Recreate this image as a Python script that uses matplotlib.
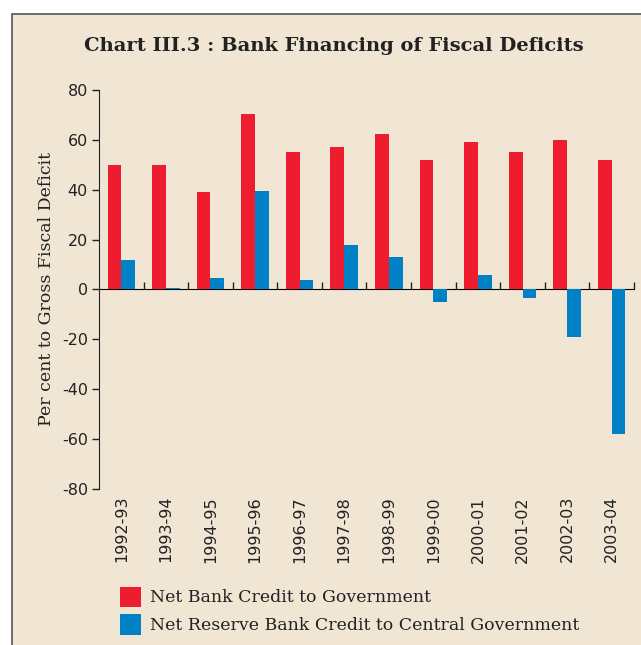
import numpy as np
import matplotlib
matplotlib.use("Agg")
import matplotlib.pyplot as plt
from matplotlib.patches import Rectangle

plt.rcParams["axes.unicode_minus"] = False

years = ["1992-93", "1993-94", "1994-95", "1995-96", "1996-97", "1997-98",
         "1998-99", "1999-00", "2000-01", "2001-02", "2002-03", "2003-04"]
net_bank = [50, 50, 39, 70.5, 55, 57, 62.5, 52, 59, 55, 60, 52]
net_rbi = [12, 0.5, 4.5, 39.5, 4, 18, 13, -5, 6, -3.5, -19, -58]

RED, BLUE = "#ED1C2E", "#0081C6"
BG = "#F0E6D3"
SERIF = "DejaVu Serif"
SANS = "DejaVu Sans"

fig = plt.figure(figsize=(6.41, 6.45), dpi=100, facecolor="white")
# beige panel with border (runs off right/bottom edge like the scan)
fig.patches.append(Rectangle((12 / 641, -0.02), 1.0, 1 - 14 / 645 + 0.02,
                             transform=fig.transFigure, facecolor=BG,
                             edgecolor="#555555", lw=1.2, zorder=-10))
fig.text(0.521, 0.929, "Chart III.3 : Bank Financing of Fiscal Deficits",
         ha="center", va="center", fontsize=14, fontweight="bold",
         family=SERIF, color="#222222")

ax = fig.add_axes([0.1545, 0.2419, 0.8345, 0.6186])
ax.set_zorder(5)
ax.set_facecolor("none")
x = np.arange(len(years))
w = 0.31
ax.bar(x - w / 2, net_bank, w, color=RED, label="Net Bank Credit to Government", zorder=3)
ax.bar(x + w / 2, net_rbi, w, color=BLUE,
       label="Net Reserve Bank Credit to Central Government", zorder=3)

ax.set_xlim(-0.5, len(years) - 0.5)
ax.set_ylim(-80, 80)
ax.set_yticks(np.arange(-80, 81, 20))
ax.tick_params(axis="y", direction="out", length=5, width=1, colors="#222222",
               labelsize=11.5, pad=3)
for t in ax.get_yticklabels():
    t.set_family(SANS)
ax.set_ylabel("Per cent to Gross Fiscal Deficit", family=SERIF, fontsize=12.5,
              color="#222222", labelpad=5)

ax.set_xticks(x)
ax.set_xticklabels(years, rotation=90, family=SANS, fontsize=11.5, color="#222222")
ax.tick_params(axis="x", length=0, pad=5)
for s in ["top", "right", "bottom"]:
    ax.spines[s].set_visible(False)
ax.spines["left"].set_color("#222222")

# zero line with category boundary ticks
sec = ax.secondary_xaxis(0.5)
sec.set_xticks(np.arange(0.5, len(years), 1))
sec.set_xticklabels([])
sec.tick_params(direction="out", length=5, width=1, colors="#222222",
                labelbottom=False, labeltop=False)
sec.spines["bottom"].set_color("#222222")

leg = fig.legend(loc="lower left", bbox_to_anchor=(0.163, -0.008), frameon=False,
                 prop={"family": SERIF, "size": 12.5}, handlelength=1.2,
                 handleheight=1.4, handletextpad=0.5, labelspacing=0.45)
leg.set_zorder(6)
for t in leg.get_texts():
    t.set_color("#222222")

fig.savefig("out.png", dpi=100, facecolor=fig.get_facecolor())
